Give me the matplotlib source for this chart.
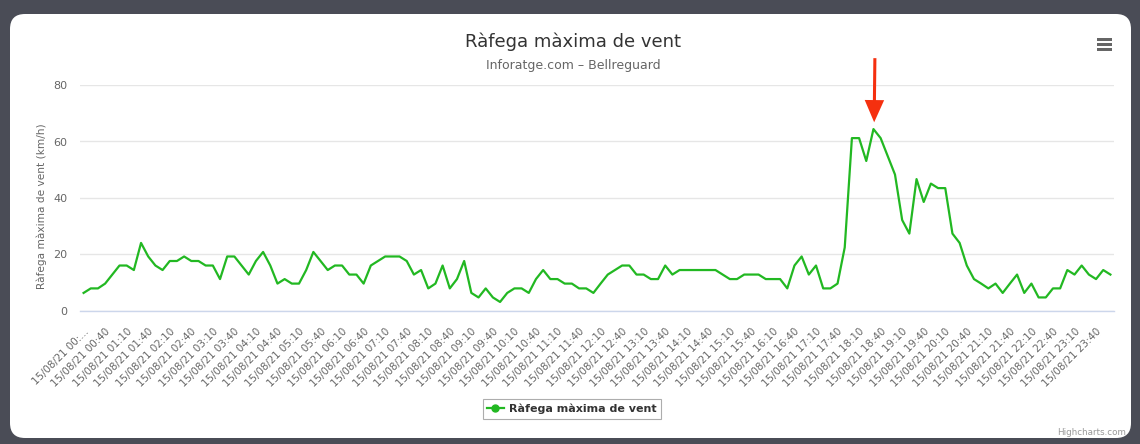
import matplotlib.pyplot as plt
from matplotlib.patches import FancyBboxPatch, Rectangle
from matplotlib.lines import Line2D
from matplotlib.transforms import IdentityTransform

title = "Ràfega màxima de vent"
subtitle = "Inforatge.com – Bellreguard"
series_name = "Ràfega màxima de vent"
y_label = "Ràfega màxima de vent (km/h)"
day = "15/08/21"

# one reading every 10 minutes, from 00:10 to 00:00 of the next day
times = []
for m in range(10, 1450, 10):
    times.append("%02d:%02d" % ((m // 60) % 24, m % 60))

# gust in km/h
gust = [
    6.4, 8.0, 8.0, 9.7, 12.9, 16.1, 16.1, 14.5, 24.1, 19.3, 16.1, 14.5,
    17.7, 17.7, 19.3, 17.7, 17.7, 16.1, 16.1, 11.3, 19.3, 19.3, 16.1, 12.9,
    17.7, 20.9, 16.1, 9.7, 11.3, 9.7, 9.7, 14.5, 20.9, 17.7, 14.5, 16.1,
    16.1, 12.9, 12.9, 9.7, 16.1, 17.7, 19.3, 19.3, 19.3, 17.7, 12.9, 14.5,
    8.0, 9.7, 16.1, 8.0, 11.3, 17.7, 6.4, 4.8, 8.0, 4.8, 3.2, 6.4,
    8.0, 8.0, 6.4, 11.3, 14.5, 11.3, 11.3, 9.7, 9.7, 8.0, 8.0, 6.4,
    9.7, 12.9, 14.5, 16.1, 16.1, 12.9, 12.9, 11.3, 11.3, 16.1, 12.9, 14.5,
    14.5, 14.5, 14.5, 14.5, 14.5, 12.9, 11.3, 11.3, 12.9, 12.9, 12.9, 11.3,
    11.3, 11.3, 8.0, 16.1, 19.3, 12.9, 16.1, 8.0, 8.0, 9.7, 22.5, 61.2,
    61.2, 53.1, 64.4, 61.2, 54.7, 48.3, 32.2, 27.4, 46.7, 38.6, 45.1, 43.5,
    43.5, 27.4, 24.1, 16.1, 11.3, 9.7, 8.0, 9.7, 6.4, 9.7, 12.9, 6.4,
    9.7, 4.8, 4.8, 8.0, 8.0, 14.5, 12.9, 16.1, 12.9, 11.3, 14.5, 12.9,
]

W, H = 1140, 444
green = '#22b822'
fig = plt.figure(figsize=(W / 100, H / 100), dpi=100, facecolor='#4a4c56')

# white rounded panel, behind everything
panel = FancyBboxPatch((10, 6), 1121, 424, boxstyle='round,pad=0,rounding_size=15',
                       transform=IdentityTransform(), facecolor='white', edgecolor='none',
                       zorder=-10)
fig.patches.append(panel)

ax = fig.add_axes([80 / W, (H - 311) / H, 1034 / W, 226 / H])
ax.patch.set_alpha(0)
x = list(range(len(gust)))
ax.plot(x, gust, color=green, lw=1.6, solid_joinstyle='round', zorder=3)

ax.set_xlim(-0.5, len(gust) - 0.5)
ax.set_ylim(0, 80)
ax.set_yticks([0, 20, 40, 60, 80])
ax.grid(axis='y', color='#e6e6e6', lw=1)
ax.set_axisbelow(True)
for s in ['top', 'right', 'left']:
    ax.spines[s].set_visible(False)
ax.spines['bottom'].set_color('#ccd6eb')
ax.spines['bottom'].set_linewidth(1)
ax.tick_params(axis='y', length=0, pad=9, labelsize=8, labelcolor='#666666')

ticks = x[::3]
labels = [day + " " + times[i] for i in ticks]
labels[0] = day + " 00:..."
ax.set_xticks(ticks)
ax.set_xticklabels(labels, rotation=45, ha='right', va='top', rotation_mode='anchor',
                   fontsize=7.4, color='#666666')
ax.tick_params(axis='x', length=0, pad=11)

fig.text(42 / W, 1 - 206 / H, y_label, rotation=90, ha='center', va='center',
         fontsize=7.6, color='#666666')
fig.text(573 / W, 1 - 42 / H, title, ha='center', va='center', fontsize=13, color='#333333')
fig.text(573 / W, 1 - 66 / H, subtitle, ha='center', va='center', fontsize=9, color='#666666')
fig.text(1126 / W, 1 - 432 / H, "Highcharts.com", ha='right', va='center',
         fontsize=6.3, color='#999999')

# menu icon
for yy in [39, 44, 49]:
    fig.patches.append(Rectangle((1097, H - yy - 1.5), 15, 3, transform=IdentityTransform(),
                                 facecolor='#666666', edgecolor='none'))

# arrow pointing at the peak
peak = gust.index(max(gust))
ax.annotate('', xy=(peak + 0.1, max(gust) + 2.4), xytext=(peak + 0.2, 89.5),
            annotation_clip=False,
            arrowprops=dict(arrowstyle='simple,head_length=1.6,head_width=1.4,tail_width=0.22',
                            color='#f5300f', lw=0, shrinkA=0, shrinkB=0))

handle = Line2D([], [], color=green, lw=1.6, marker='o', markersize=5)
leg = fig.legend([handle], [series_name], loc='center', bbox_to_anchor=(572 / W, 1 - 409 / H),
                 frameon=True, fancybox=False, edgecolor='#999999', handlelength=1.5,
                 handletextpad=0.5, borderpad=0.4, prop={'size': 8, 'weight': 'bold'})
leg.get_frame().set_linewidth(0.8)
for t in leg.get_texts():
    t.set_color('#333333')

fig.savefig('out.png', dpi=100, facecolor=fig.get_facecolor())
